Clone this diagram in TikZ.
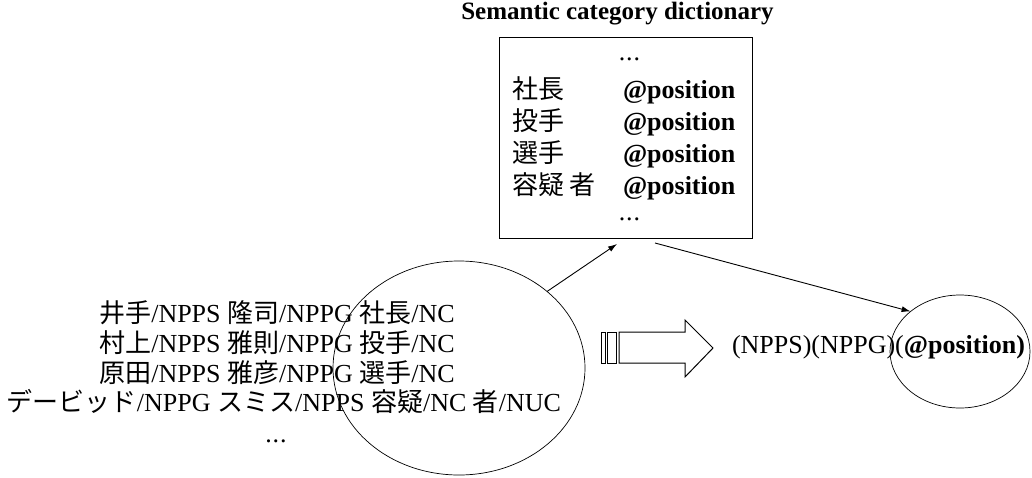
\documentclass[tikz,border=0pt]{standalone}
\usepackage{fontspec}
\setmainfont{Liberation Serif}
\newfontfamily\cjk{Noto Sans CJK JP}
\newcommand\jpn[1]{{\cjk #1}}
\newcommand\mydots{.\kern1pt.\kern1pt.}
\usetikzlibrary{arrows.meta,shapes.geometric}
\tikzset{
  every node/.style={inner sep=0pt, outer sep=0pt},
  txt/.style={font=\fontsize{26}{30}\selectfont, anchor=base},
  ttl/.style={font=\fontsize{25}{28}\selectfont\bfseries, anchor=base},
  row/.style={font=\fontsize{26}{30}\selectfont, anchor=base west},
  conn/.style={line width=0.9pt, -{Latex[length=9pt,width=6pt]}},
  ring/.style={draw, ellipse, line width=0.7pt},
  dictbox/.style={draw, rectangle, line width=1pt},
  blockarrow/.style={draw, line width=1pt, fill=white},
}
\begin{document}
\begin{tikzpicture}[x=1pt,y=-1pt]
\useasboundingbox (0,0) rectangle (1032,477);
% dictionary
\node[ttl] (title) at (617.5,19) {Semantic category dictionary};
\node[dictbox, minimum width=253pt, minimum height=201pt] (dict) at (625.5,137.5) {};
\node[txt] (dd1) at (629.5,60) {\mydots};
\node[row] (k1) at (512,98.5) {\jpn{社長}};
\node[row] (k2) at (512,130.5) {\jpn{投手}};
\node[row] (k3) at (512,162.5) {\jpn{選手}};
\node[row] (k4) at (512,194.5) {\jpn{容疑 者}};
\node[row] (v1) at (623,98.5) {\textbf{@position}};
\node[row] (v2) at (623,130.5) {\textbf{@position}};
\node[row] (v3) at (623,162.5) {\textbf{@position}};
\node[row] (v4) at (623,194.5) {\textbf{@position}};
\node[txt] (dd2) at (629.5,220) {\mydots};
% left text
\node[txt] (l1) at (277,322) {\jpn{井手}/NPPS \jpn{隆司}/NPPG \jpn{社長}/NC};
\node[txt] (l2) at (277,352) {\jpn{村上}/NPPS \jpn{雅則}/NPPG \jpn{投手}/NC};
\node[txt] (l3) at (277,382) {\jpn{原田}/NPPS \jpn{雅彦}/NPPG \jpn{選手}/NC};
\node[txt] (l4) at (284,411) {\jpn{デービッド}/NPPG \jpn{スミス}/NPPS \jpn{容疑}/NC \jpn{者}/NUC};
\node[txt] (l5) at (276,442) {\mydots};
% circles
\node[ring, minimum width=252pt, minimum height=214pt] (big) at (459,368) {};
\node[ring, minimum width=140pt, minimum height=113pt] (small) at (960,351.5) {};
% result text
\node[txt, anchor=base west] (res) at (732,353) {(NPPS)(NPPG)(\textbf{@position)}};
% connectors
\coordinate (d1) at (617,244);
\coordinate (d2) at (655,243);
\draw[conn] (big.41) -- (d1);
\draw[conn] (d2) -- (small.141);
% block arrow
\draw[blockarrow] (601,332) rectangle (605,363);
\draw[blockarrow] (607,332) rectangle (616,363);
\draw[blockarrow] (619,332) -- (685,332) -- (685,320) -- (713,348) -- (685,377) -- (685,363) -- (619,363) -- cycle;
\end{tikzpicture}
\end{document}
